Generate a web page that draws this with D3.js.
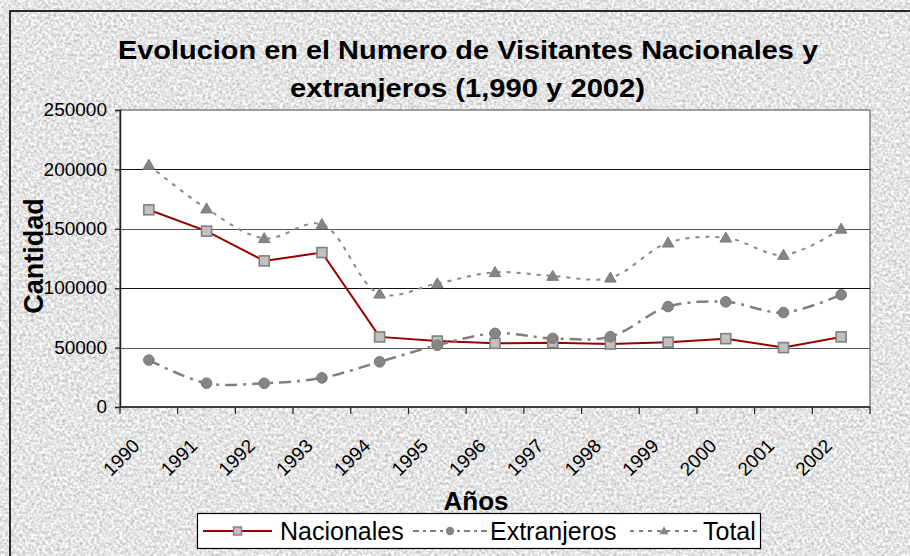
<!DOCTYPE html>
<html>
<head>
<meta charset="utf-8">
<script src="https://cdn.jsdelivr.net/npm/d3@7"></script>
<style>
  body { margin: 0; background: #fff; }
  svg { display: block; font-family: "Liberation Sans", Arial, sans-serif; }
</style>
</head>
<body>
<div id="chart"></div>
<script>
// data
const years = ["1990", "1991", "1992", "1993", "1994", "1995", "1996", "1997", "1998", "1999", "2000", "2001", "2002"];
const nacionales = [166000, 148000, 123000, 130000, 59000, 55500, 53600, 54100, 53000, 54500, 57500, 50000, 59000];
const extranjeros = [39500, 20000, 20000, 24500, 38000, 52000, 62000, 57800, 59200, 84500, 88500, 79500, 94500];
const total = [203700, 167000, 142000, 153800, 95300, 104000, 113400, 110300, 108800, 138300, 142500, 128000, 150000];
const yTicks = [0, 50000, 100000, 150000, 200000, 250000];
const seriesNames = ["Nacionales", "Extranjeros", "Total"];

const width = 910, height = 556;
const plot = { left: 120, right: 870, top: 110, bottom: 407 };

const svg = d3.select("#chart").append("svg")
    .attr("width", width)
    .attr("height", height);

// granite-like background texture
const defs = svg.append("defs");
const filt = defs.append("filter").attr("id", "granite")
    .attr("filterUnits", "userSpaceOnUse")
    .attr("x", 0).attr("y", 0).attr("width", width + 40).attr("height", height + 40)
    .attr("color-interpolation-filters", "sRGB");
filt.append("feTurbulence")
    .attr("type", "fractalNoise")
    .attr("baseFrequency", 0.35)
    .attr("numOctaves", 4)
    .attr("seed", 7)
    .attr("result", "noise");
filt.append("feColorMatrix")
    .attr("in", "noise")
    .attr("type", "matrix")
    .attr("values", "0.45 0 0 0 0.67  0.45 0 0 0 0.67  0.45 0 0 0 0.67  0 0 0 0 1");

svg.append("rect")
    .attr("x", 10).attr("y", 11)
    .attr("width", width + 20).attr("height", height + 20)
    .attr("fill", "#e2e2e2")
    .attr("filter", "url(#granite)");
svg.append("rect")
    .attr("x", 10).attr("y", 11)
    .attr("width", width + 20).attr("height", height + 20)
    .attr("fill", "none")
    .attr("stroke", "#2a2a2a")
    .attr("stroke-width", 2);

// scales
const x = d3.scaleBand().domain(years).range([plot.left, plot.right]).padding(0);
const y = d3.scaleLinear().domain([0, 250000]).range([plot.bottom, plot.top]);
const cx = d => x(d) + x.bandwidth() / 2;

// plot area
svg.append("rect")
    .attr("x", plot.left).attr("y", plot.top)
    .attr("width", plot.right - plot.left).attr("height", plot.bottom - plot.top)
    .attr("fill", "#fff")
    .attr("stroke", "#808080")
    .attr("stroke-width", 1.5);

// gridlines
svg.append("g")
    .selectAll("line")
    .data(yTicks.filter(v => v > 0 && v < 250000))
    .enter().append("line")
    .attr("x1", plot.left).attr("x2", plot.right)
    .attr("y1", d => Math.round(y(d)) + 0.5).attr("y2", d => Math.round(y(d)) + 0.5)
    .attr("stroke", (d, i) => i % 2 ? "#111" : "#555")
    .attr("stroke-width", 1.2);

// y axis
const yAxis = svg.append("g")
    .attr("transform", `translate(${plot.left},0)`)
    .call(d3.axisLeft(y).tickValues(yTicks).tickSize(5).tickPadding(8).tickFormat(d3.format("d")));
yAxis.select(".domain").attr("stroke", "#222").attr("stroke-width", 1.5);
yAxis.selectAll(".tick line").attr("stroke", "#222").attr("stroke-width", 1.2);
yAxis.selectAll(".tick text")
    .attr("font-size", 19)
    .attr("font-family", "Liberation Sans, Arial, sans-serif")
    .attr("fill", "#000")
    .attr("dy", "0.3em");

// x axis: ticks between categories
const xg = svg.append("g");
xg.append("line")
    .attr("x1", plot.left).attr("x2", plot.right)
    .attr("y1", plot.bottom).attr("y2", plot.bottom)
    .attr("stroke", "#222").attr("stroke-width", 1.5);
xg.selectAll(".xtick")
    .data(years.concat(["end"]))
    .enter().append("line")
    .attr("class", "xtick")
    .attr("x1", d => d === "end" ? plot.right : x(d))
    .attr("x2", d => d === "end" ? plot.right : x(d))
    .attr("y1", plot.bottom).attr("y2", plot.bottom + 7)
    .attr("stroke", "#222").attr("stroke-width", 1.2);
xg.selectAll(".xlabel")
    .data(years)
    .enter().append("text")
    .attr("class", "xlabel")
    .attr("transform", d => `translate(${cx(d) - 8},${447}) rotate(-45)`)
    .attr("text-anchor", "end")
    .attr("font-size", 19)
    .text(d => d);

// series
const lineLinear = d3.line()
    .x((d, i) => cx(years[i]))
    .y(d => y(d));
const lineSmooth = d3.line()
    .x((d, i) => cx(years[i]))
    .y(d => y(d))
    .curve(d3.curveCatmullRom.alpha(0.5));

// Nacionales
svg.append("path")
    .attr("d", lineLinear(nacionales))
    .attr("fill", "none")
    .attr("stroke", "#990000")
    .attr("stroke-width", 2);
svg.append("g").selectAll("rect")
    .data(nacionales)
    .enter().append("rect")
    .attr("x", (d, i) => cx(years[i]) - 5)
    .attr("y", d => y(d) - 5)
    .attr("width", 10).attr("height", 10)
    .attr("fill", "#c0c0c0")
    .attr("stroke", "#808080")
    .attr("stroke-width", 1.6);

// Extranjeros
svg.append("path")
    .attr("d", lineSmooth(extranjeros))
    .attr("fill", "none")
    .attr("stroke", "#808080")
    .attr("stroke-width", 2.5)
    .attr("stroke-dasharray", "12,6,3,6");
svg.append("g").selectAll("circle")
    .data(extranjeros)
    .enter().append("circle")
    .attr("cx", (d, i) => cx(years[i]))
    .attr("cy", d => y(d))
    .attr("r", 5.3)
    .attr("fill", "#858585")
    .attr("stroke", "#777")
    .attr("stroke-width", 1);

// Total
const tri = d3.symbol().type(d3.symbolTriangle).size(58);
svg.append("path")
    .attr("d", lineSmooth(total))
    .attr("fill", "none")
    .attr("stroke", "#888")
    .attr("stroke-width", 2)
    .attr("stroke-dasharray", "4,6");
svg.append("g").selectAll("path")
    .data(total)
    .enter().append("path")
    .attr("d", tri)
    .attr("transform", (d, i) => `translate(${cx(years[i])},${y(d) + 1})`)
    .attr("fill", "#858585")
    .attr("stroke", "#7a7a7a")
    .attr("stroke-width", 1);

// title
const title = svg.append("g").attr("font-weight", "bold").attr("text-anchor", "middle");
title.append("text")
    .attr("x", 468).attr("y", 59)
    .attr("font-size", 25)
    .attr("textLength", 700).attr("lengthAdjust", "spacingAndGlyphs")
    .text("Evolucion en el Numero de Visitantes Nacionales y");
title.append("text")
    .attr("x", 467.5).attr("y", 97)
    .attr("font-size", 25)
    .attr("textLength", 355).attr("lengthAdjust", "spacingAndGlyphs")
    .text("extranjeros (1,990 y 2002)");

// axis titles
svg.append("text")
    .attr("transform", "translate(43,256) rotate(-90)")
    .attr("text-anchor", "middle")
    .attr("font-weight", "bold")
    .attr("font-size", 27)
    .text("Cantidad");
svg.append("text")
    .attr("x", 476).attr("y", 510)
    .attr("text-anchor", "middle")
    .attr("font-weight", "bold")
    .attr("font-size", 26)
    .text("Años");

// legend
const legend = svg.append("g");
legend.append("rect")
    .attr("x", 197.5).attr("y", 513.5)
    .attr("width", 563).attr("height", 35)
    .attr("fill", "#fff")
    .attr("stroke", "#000")
    .attr("stroke-width", 1.2);

const legendItems = [
    { name: seriesNames[0], x0: 203, x1: 272, tx: 280, stroke: "#990000", dash: null, sw: 2, mark: "square" },
    { name: seriesNames[1], x0: 413, x1: 487, tx: 490, stroke: "#808080", dash: "6,4,3,4", sw: 2, mark: "circle" },
    { name: seriesNames[2], x0: 630, x1: 698, tx: 703, stroke: "#808080", dash: "4,5", sw: 2, mark: "triangle" }
];
const ly = 531;
legendItems.forEach(it => {
    const mx = (it.x0 + it.x1) / 2;
    legend.append("line")
        .attr("x1", it.x0).attr("x2", it.x1)
        .attr("y1", ly).attr("y2", ly)
        .attr("stroke", it.stroke)
        .attr("stroke-width", it.sw)
        .attr("stroke-dasharray", it.dash);
    if (it.mark === "square") {
        legend.append("rect")
            .attr("x", mx - 4).attr("y", ly - 4)
            .attr("width", 8).attr("height", 8)
            .attr("fill", "#c0c0c0").attr("stroke", "#808080").attr("stroke-width", 1.4);
    } else if (it.mark === "circle") {
        legend.append("circle")
            .attr("cx", mx).attr("cy", ly).attr("r", 4.2)
            .attr("fill", "#858585");
    } else {
        legend.append("path")
            .attr("d", d3.symbol().type(d3.symbolTriangle).size(36))
            .attr("transform", `translate(${mx},${ly + 0.5})`)
            .attr("fill", "#858585");
    }
    legend.append("text")
        .attr("x", it.tx).attr("y", 540)
        .attr("font-size", 25)
        .text(it.name);
});
</script>
</body>
</html>
